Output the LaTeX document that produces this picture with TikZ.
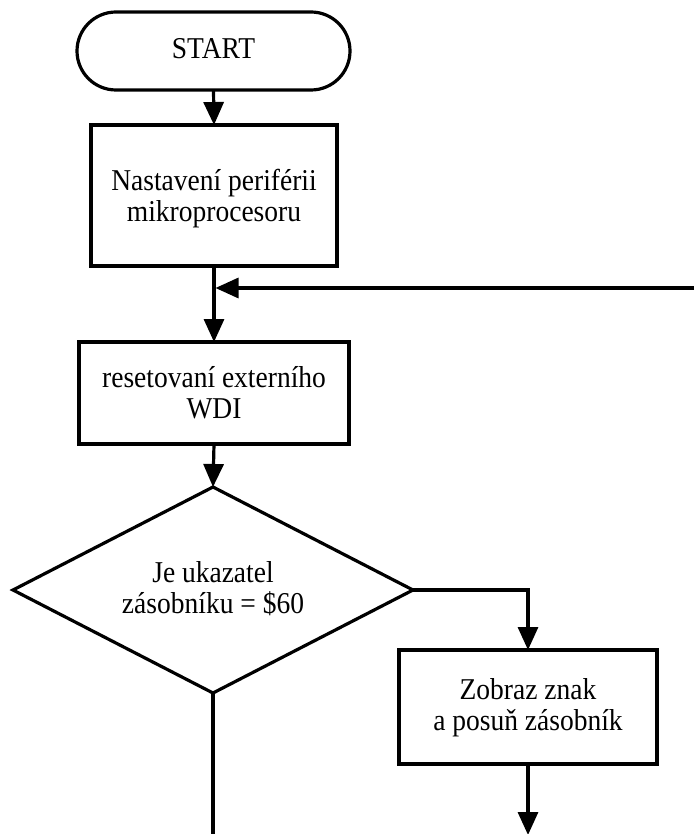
\documentclass[tikz,border=0pt]{standalone}
\usepackage{fontspec}
\setmainfont{Liberation Serif}
\usetikzlibrary{arrows.meta,shapes.geometric,calc}
\newcommand\stretchtxt[1]{\scalebox{1}[1.1]{\begin{tabular}{@{}c@{}}#1\end{tabular}}}
\begin{document}
\begin{tikzpicture}[x=1pt,y=-1pt,
  txt/.style={font=\fontsize{27.5}{27.5}\selectfont, align=center, inner sep=0pt},
  shapebox/.style={draw, line width=3.2pt, inner sep=0pt, outer sep=0pt},
  flow/.style={line width=3.2pt, -{Triangle[length=23pt,width=20pt]}},
  plain/.style={line width=3.2pt}
]
\useasboundingbox (0,0) rectangle (694,834);
% nodes
\node[shapebox, rounded corners=39pt, minimum width=273pt, minimum height=78pt] (start) at (213.5,51) {};
\node[txt] (starttxt) at (213.5,52) {\stretchtxt{START}};
\node[shapebox, minimum width=246pt, minimum height=141pt] (b1) at (214,195.5) {};
\node[txt] (b1txt) at (214,200) {\stretchtxt{Nastavení periférii\\mikroprocesoru}};
\node[shapebox, minimum width=270pt, minimum height=102pt] (b2) at (214,393) {};
\node[txt] (b2txt) at (214,397) {\stretchtxt{resetovaní externího\\WDI}};
\node[shapebox, shape=diamond, aspect=2, minimum width=400pt, minimum height=206pt] (d) at (213,590) {};
\node[txt] (dtxt) at (213,592) {\stretchtxt{Je ukazatel\\zásobníku = \$60}};
\node[shapebox, minimum width=258pt, minimum height=114pt] (b3) at (528,707) {};
\node[txt] (b3txt) at (528,709) {\stretchtxt{Zobraz znak\\a posuň zásobník}};
\coordinate (R) at (694,288);
\coordinate (J) at (215.5,288);
\coordinate (e1) at (213,834);
\coordinate (e2) at (528,835);
% connectors
\draw[flow] (start.south) -- (b1.north);
\draw[flow] (b1.south) -- (b2.north);
\draw[flow] (R) -- (J);
\draw[flow] (b2.south) -- (d.north);
\draw[flow] (d.east) -| (b3.north);
\draw[flow] (b3.south) -- (e2);
\draw[plain] (d.south) -- (e1);
\end{tikzpicture}
\end{document}
